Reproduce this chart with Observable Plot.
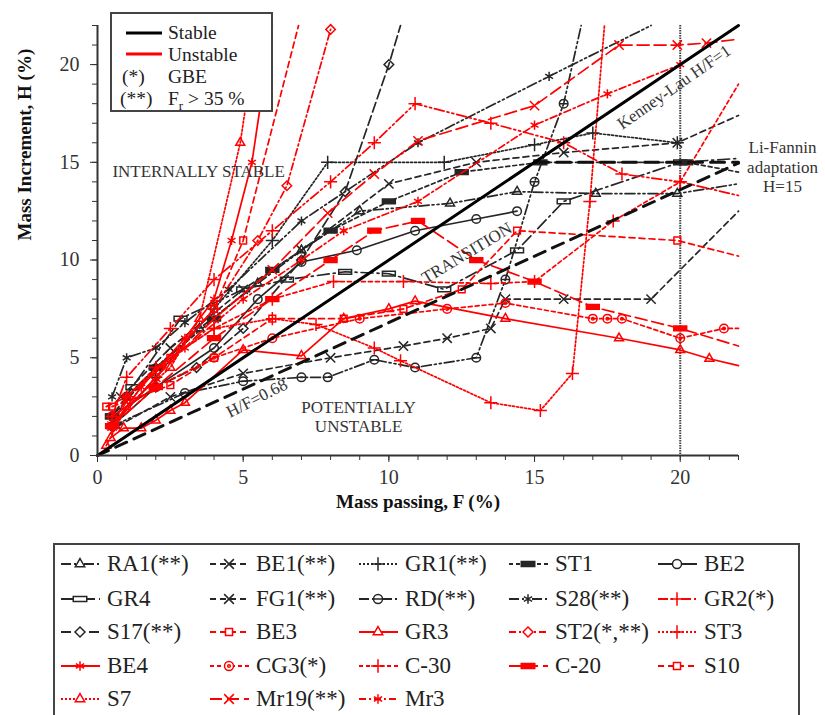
<!DOCTYPE html>
<html><head><meta charset="utf-8">
<script src="https://cdn.jsdelivr.net/npm/d3@7"></script>
<script src="https://cdn.jsdelivr.net/npm/@observablehq/plot@0.6"></script>
<style>
body{margin:0;background:#fff;font-family:"Liberation Serif","DejaVu Serif",serif;}
#wrap{position:relative;width:825px;height:715px;overflow:hidden;background:#fff;}
#chart{position:absolute;left:0;top:0;}
#chart svg text{font-family:"Liberation Serif","DejaVu Serif",serif !important;}
#legTop{position:absolute;left:110px;top:12px;width:159px;height:96px;border:2px solid #444;background:#fff;color:#222;font-size:19.5px;font-family:"Liberation Serif",serif;}
#legTop span{position:absolute;line-height:1;white-space:nowrap;font-family:"Liberation Serif",serif;}
#legBot{position:absolute;left:53px;top:543px;width:743px;height:200px;border:2px solid #444;background:#fff;}
.item{position:absolute;height:24px;}
.item svg{position:absolute;left:0;top:0;}
.item span{position:absolute;top:0;line-height:24px;font-size:23px;color:#222;white-space:nowrap;font-family:"Liberation Serif",serif;}
</style></head><body>
<div id="wrap"><div id="chart"></div><div id="legTop"></div><div id="legBot"></div></div>
<script>
// ---------- data: [F (%), H (%)] pairs per test ----------
const RA1  = [[0.5,1.5],[1,3],[2,4.5],[3.5,6.5],[5.5,8.8],[7,10.5],[9,12.5],[12.1,12.9],[14.4,13.5],[17.1,13.4],[19.9,13.4],[22,13.9]];
const BE1  = [[0.7,1.5],[2.5,3],[5,4.2],[8,5],[10.5,5.6],[12,6],[13.5,6.5],[14,8],[16,8],[19,8],[22,12.5]];
const GR1  = [[0.5,1.5],[2,4],[4,7.5],[6,11],[7.9,15],[11.9,15],[15,15.9],[17,16.5],[19.9,16]];
const ST1  = [[0.5,2],[2,4.5],[4,7],[6,9.5],[8,11.5],[10,13],[12.5,14.5],[15.2,15],[20.2,15],[22,14.5]];
const BE2  = [[0.5,2],[2,3.5],[4,5.5],[5.5,8],[7,9.9],[8.9,10.5],[10.9,11.5],[13,12.1],[14.4,12.5]];
const GR4  = [[0.5,2],[1.2,3.5],[2.85,7],[5,8.5],[6.5,9],[8.5,9.4],[10,9.3],[11.9,8.5],[14.4,10.5],[16,13],[20,15],[22,15.2]];
const FG1  = [[0.8,3],[2.5,5.5],[5,8.5],[7,10.5],[10,13.9],[13,15],[16,15.5],[19.9,16],[22,17.4]];
const RD   = [[0.5,1.5],[3,3.2],[5,3.8],[7,4],[7.9,4],[9.5,4.9],[10.9,4.5],[13,5],[14,9],[15,14],[16,18],[16.6,22]];
const S28  = [[0.5,3],[1,5],[2,5.5],[3,6.8],[4.5,8.5],[7,12],[11,16],[15.5,19.4],[19,22]];
const GR2  = [[0.5,2],[1,4],[2.5,6.5],[4,9],[6,11.5],[8,14],[9.5,16],[10.9,18],[13.5,17],[16,16],[18,14.4],[20,14],[22,13.3]];
const S17  = [[0.5,1.5],[2,3.5],[3.4,4.5],[5,6.5],[7,10],[8.5,13.5],[10,20],[10.4,22]];
const BE3  = [[0.3,2.5],[1,3],[2.5,5],[4,7.5],[5,11],[6.9,22]];
const GR3  = [[0.45,0.9],[0.9,1.4],[1.5,1.4],[2,1.8],[2.5,2.3],[3,2.7],[5,5.4],[7,5.1],[8.45,7],[10,7.5],[10.9,7.9],[14,7],[17.9,6],[20,5.4],[21,4.95],[22,4.6]];
const ST2  = [[0.5,1.5],[2,4],[4,7.5],[5.5,11],[6.5,13.8],[8,21.8]];
const ST3  = [[0.5,1.5],[2,4.5],[4,6.5],[6,7],[7.5,6.7],[9.5,5.5],[10.4,4.85],[13.5,2.7],[15.2,2.3],[16.3,4.2],[16.9,13],[17.4,22]];
const BE4  = [[0.5,1.5],[1.5,3.5],[3,6],[4,8],[4.6,11],[5.3,15],[6,22]];
const CG3  = [[0.5,2],[2,3.5],[4,5],[6,6],[9,7],[12,7.5],[14,7.8],[17,7],[17.5,7],[18,7],[20,6],[21.5,6.5],[22,6.5]];
const C30  = [[0.5,1.5],[1,3],[2,4.5],[4,6.5],[6,8],[8.1,8.9],[10.5,8.9],[13.5,8.8],[15,8.9],[17.7,12],[20,14],[22,19]];
const C20  = [[0.5,1.5],[2,3.5],[4,6],[6,8],[8,10],[9.5,11.5],[11,12],[13,10],[15,8.9],[17,7.6],[20,6.5],[22,5.6]];
const S10  = [[0.5,2.5],[2.5,3.6],[4,5],[6,7],[8.45,7],[10.5,7.5],[12.5,8.5],[14.4,11.5],[19.9,11],[22,10.2]];
const S7   = [[0.3,0.5],[1,2.5],[2.5,4.5],[3.5,7],[4.9,16],[5.5,22]];
const Mr19 = [[0.5,1.5],[2,4],[4,7],[6,9.5],[7.9,12.4],[9.5,14.4],[11,16.1],[15,17.9],[17.9,21],[19.9,21],[20.9,21.1],[22,21.3]];
const Mr3  = [[1,3],[3,5.5],[5,8],[7,10],[8.45,11.5],[11,13],[15,16.9],[17.5,18.5],[20,20]];

const seriesNames = ["RA1(**)","BE1(**)","GR1(**)","ST1","BE2","GR4","FG1(**)","RD(**)","S28(**)","GR2(*)",
  "S17(**)","BE3","GR3","ST2(*,**)","ST3","BE4","CG3(*)","C-30","C-20","S10","S7","Mr19(**)","Mr3"];
const seriesData = [RA1,BE1,GR1,ST1,BE2,GR4,FG1,RD,S28,GR2,S17,BE3,GR3,ST2,ST3,BE4,CG3,C30,C20,S10,S7,Mr19,Mr3];
const seriesGroup = ["stable","stable","stable","stable","stable","stable","stable","stable","stable","unstable",
  "stable","unstable","unstable","unstable","unstable","unstable","unstable","unstable","unstable","unstable","unstable","unstable","unstable"];

// reference criteria lines
const kennyF = [0,22], kennyH = [0,22];
const r068F = [0,22], r068H = [0,14.96];
const lfF = [15,22], lfH = [15,15];
const vertF = [20];
const xMajor = [0,5,10,15,20], yMajor = [0,5,10,15,20];

// ---------- styles ----------
const barFill = {draw(c,s){const r=Math.sqrt(s/Math.PI); c.rect(-r*1.5,-r*0.55,r*3,r*1.1);}};
const barOpen = {draw(c,s){const r=Math.sqrt(s/Math.PI); c.rect(-r*1.5,-r*0.55,r*3,r*1.1);}};
const circMinus = {draw(c,s){const r=Math.sqrt(s/Math.PI); c.moveTo(r,0); c.arc(0,0,r,0,2*Math.PI); c.moveTo(-r,0); c.lineTo(r,0);}};
const circDot = {draw(c,s){const r=Math.sqrt(s/Math.PI); c.moveTo(r,0); c.arc(0,0,r,0,2*Math.PI); const q=r*0.3; c.moveTo(q,0); c.arc(0,0,q,0,2*Math.PI);}};
const SYM = {tri:d3.symbolTriangle2, times:d3.symbolTimes, plus:d3.symbolPlus, barF:barFill, barO:barOpen,
  circ:d3.symbolCircle, cminus:circMinus, cdot:circDot, ast:d3.symbolAsterisk, dia:d3.symbolDiamond2, sq:d3.symbolSquare2};
const COLOR = {stable:"#262626", unstable:"#ff0000"};
const styleOf = {
  "RA1(**)":{dash:"10,3,2,3,2,3", sym:"tri"},
  "BE1(**)":{dash:"6,4", sym:"times"},
  "GR1(**)":{dash:"2,2", sym:"plus"},
  "ST1":{dash:"4,3", sym:"barF", filled:true},
  "BE2":{dash:null, sym:"circ"},
  "GR4":{dash:"12,4,2,4", sym:"barO"},
  "FG1(**)":{dash:"6,4", sym:"times"},
  "RD(**)":{dash:"10,3,2,3,2,3", sym:"cminus"},
  "S28(**)":{dash:"10,3,2,3,2,3", sym:"ast"},
  "GR2(*)":{dash:"10,3,2,3,2,3", sym:"plus"},
  "S17(**)":{dash:"10,4", sym:"dia"},
  "BE3":{dash:"6,4", sym:"sq"},
  "GR3":{dash:null, sym:"tri"},
  "ST2(*,**)":{dash:"7,3,2,3", sym:"dia"},
  "ST3":{dash:"2,2", sym:"plus"},
  "BE4":{dash:null, sym:"ast"},
  "CG3(*)":{dash:"4,3", sym:"cdot"},
  "C-30":{dash:"4,3", sym:"plus"},
  "C-20":{dash:"12,5", sym:"barF", filled:true},
  "S10":{dash:"6,4", sym:"sq"},
  "S7":{dash:"2,2", sym:"tri"},
  "Mr19(**)":{dash:"12,5", sym:"times"},
  "Mr3":{dash:"7,3,2,3", sym:"ast"}
};

// annotations (text, F, H, rotation)
const annots = [
  {t:"INTERNALLY STABLE", F:3.47, H:14.58, rot:0},
  {t:"POTENTIALLY\nUNSTABLE", F:8.96, H:2.0, rot:0},
  {t:"TRANSITION", F:12.66, H:10.39, rot:-31},
  {t:"Kenney-Lau H/F=1", F:19.77, H:18.88, rot:-35},
  {t:"H/F=0.68", F:5.46, H:2.97, rot:-27},
  {t:"Li-Fannin\nadaptation\nH=15", F:23.51, H:14.79, rot:0}
];

// ---------- chart ----------
const pts = (F,H) => F.map((f,i)=>({F:f,H:H[i]}));
const FONT = '"Liberation Serif","DejaVu Serif",serif';
const marks = [];
marks.push(Plot.ruleX(vertF, {stroke:"#444", strokeWidth:2, strokeDasharray:"1.5,1"}));
seriesData.forEach((data,i)=>{
  const name = seriesNames[i], st = styleOf[name], col = COLOR[seriesGroup[i]];
  const rows = data.map(d=>({F:d[0],H:d[1]}));
  marks.push(Plot.line(rows, {x:"F", y:"H", stroke:col, strokeWidth:1.7, strokeDasharray:st.dash || undefined}));
  marks.push(Plot.dot(rows.filter(d=>d.F<22 && d.H<22), {x:"F", y:"H", r:4.3, symbol:SYM[st.sym], stroke:col, strokeWidth:1.5, fill: st.filled ? col : "none"}));
});
marks.push(Plot.line(pts(r068F,r068H), {x:"F", y:"H", stroke:"#111", strokeWidth:3, strokeDasharray:"12,8"}));
marks.push(Plot.line(pts(lfF,lfH), {x:"F", y:"H", stroke:"#111", strokeWidth:3, strokeDasharray:"14,8"}));
marks.push(Plot.line(pts(kennyF,kennyH), {x:"F", y:"H", stroke:"#000", strokeWidth:3}));
annots.forEach(a=>{
  marks.push(Plot.text([a], {x:"F", y:"H", text:"t", rotate:a.rot, fontSize:17, fill:"#333", lineHeight:1.15, fontFamily:FONT}));
});
marks.push(Plot.ruleX([0], {stroke:"#333", strokeWidth:2}));
marks.push(Plot.ruleY([0], {stroke:"#333", strokeWidth:2}));
marks.push(Plot.axisX({ticks:d3.range(0,23), tickSize:5, tickFormat:()=>"", label:null, color:"#333"}));
marks.push(Plot.axisX({ticks:xMajor, tickSize:7, tickPadding:7, fontSize:20, label:null, color:"#333", fontFamily:FONT, tickFormat:d=>String(d)}));
marks.push(Plot.axisY({ticks:d3.range(0,23), tickSize:5, tickFormat:()=>"", label:null, color:"#333"}));
marks.push(Plot.axisY({ticks:yMajor, tickSize:7, tickPadding:11, fontSize:20, label:null, color:"#333", fontFamily:FONT, tickFormat:d=>String(d)}));
marks.push(Plot.text(["Mass passing, F (%)"], {text:d=>d, frameAnchor:"bottom", dy:52, fontSize:19, fontWeight:"bold", fill:"#111", fontFamily:FONT}));
marks.push(Plot.text(["Mass Increment, H (%)"], {text:d=>d, frameAnchor:"left", dx:-73, rotate:-90, fontSize:19, fontWeight:"bold", fill:"#111", fontFamily:FONT}));

const chart = Plot.plot({
  width:825, height:535,
  marginLeft:97, marginRight:87, marginTop:25, marginBottom:80,
  x:{domain:[0,22]}, y:{domain:[0,22]},
  style:{fontFamily:FONT, background:"#fff", overflow:"visible"},
  marks
});
document.getElementById("chart").appendChild(chart);

// ---------- top-left legend ----------
const lt = document.getElementById("legTop");
lt.innerHTML = `
<svg width="159" height="96" style="position:absolute;left:0;top:0">
 <line x1="14" x2="50" y1="19" y2="19" stroke="#000" stroke-width="3"/>
 <line x1="14" x2="50" y1="40" y2="40" stroke="#ff0000" stroke-width="3"/>
</svg>
<span style="left:56px;top:9px">Stable</span>
<span style="left:56px;top:31px">Unstable</span>
<span style="left:10px;top:53px">(*)</span><span style="left:56px;top:53px">GBE</span>
<span style="left:8px;top:75px">(**)</span><span style="left:56px;top:75px">F<sub style="font-size:13px">r</sub> &gt; 35 %</span>`;

// ---------- bottom legend ----------
const lb = document.getElementById("legBot");
const colX = [5,154,303,453,602];
const rowY = [7,42,75,109,142];
seriesNames.forEach((name,i)=>{
  const st = styleOf[name], col = COLOR[seriesGroup[i]];
  const div = document.createElement("div");
  div.className = "item";
  div.style.left = colX[i%5]+"px"; div.style.top = rowY[Math.floor(i/5)]+"px";
  const svg = d3.create("svg").attr("width",42).attr("height",24);
  svg.append("line").attr("x1",1).attr("x2",40).attr("y1",12).attr("y2",12)
     .attr("stroke",col).attr("stroke-width",2).attr("stroke-dasharray",st.dash||null);
  svg.append("path").attr("transform","translate(20,12)")
     .attr("d", d3.symbol(SYM[st.sym], Math.PI*4.5*4.5)())
     .attr("stroke",col).attr("stroke-width",1.5).attr("fill", st.filled?col:"#fff");
  div.appendChild(svg.node());
  const sp = document.createElement("span");
  sp.style.left = "47px"; sp.textContent = name;
  div.appendChild(sp);
  lb.appendChild(div);
});
</script></body></html>
